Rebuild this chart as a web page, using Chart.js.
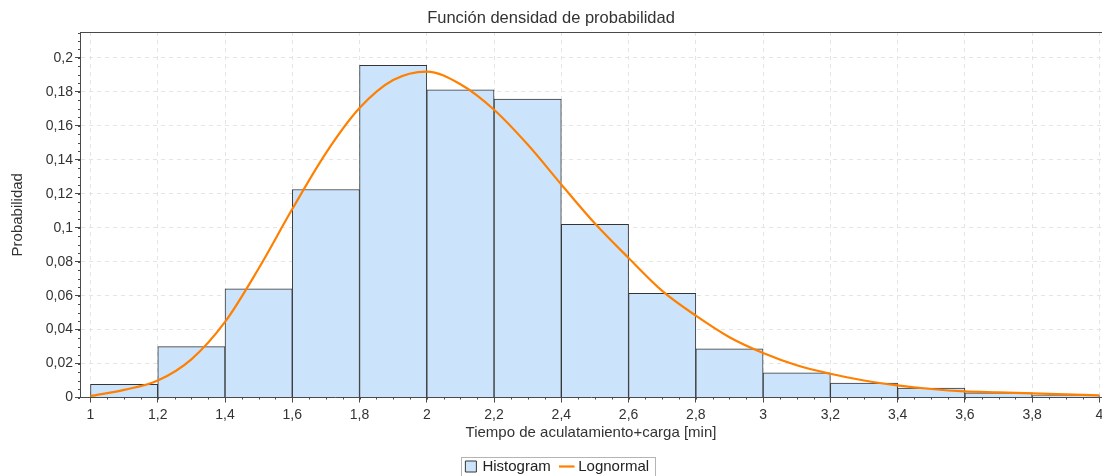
<!DOCTYPE html>
<html>
<head>
<meta charset="utf-8">
<title>Función densidad de probabilidad</title>
<script src="https://cdn.jsdelivr.net/npm/chart.js@4.4.1/dist/chart.umd.min.js"></script>
<style>
  html, body { margin: 0; padding: 0; background: #fff; }
  #wrap { width: 1102px; height: 476px; }
</style>
</head>
<body>
<div id="wrap"><canvas id="pdfChart" width="1102" height="476"></canvas></div>
<script>
// histogram classes (centre of each 0.2 min wide class) and relative frequency
const binCenters = [1.1, 1.3, 1.5, 1.7, 1.9, 2.1, 2.3, 2.5, 2.7, 2.9, 3.1, 3.3, 3.5, 3.7, 3.9];
const histValues = [0.0077, 0.0300, 0.0640, 0.1225, 0.1957, 0.1813, 0.1758, 0.1020,
                    0.0614, 0.0287, 0.0146, 0.0085, 0.0055, 0.0028, 0.0012];

// fitted lognormal density
const curveX = [1.0, 1.1, 1.2, 1.3, 1.4, 1.5, 1.6, 1.7, 1.8, 1.9, 2.0, 2.1, 2.2, 2.3,
                2.4, 2.5, 2.6, 2.7, 2.8, 2.9, 3.0, 3.1, 3.2, 3.3, 3.4, 3.5, 3.6, 3.7, 3.8, 3.9, 4.0];
const curveY = [0.0008, 0.0045, 0.0100, 0.0225, 0.0445, 0.0760, 0.1110, 0.1440, 0.1705,
                0.1870, 0.1920, 0.1845, 0.1695, 0.1490, 0.1255, 0.1025, 0.0822, 0.0628, 0.0482,
                0.0355, 0.0262, 0.0190, 0.0140, 0.0100, 0.0071, 0.0050, 0.0036, 0.0030, 0.0024,
                0.0018, 0.0012];

// axis ticks
const xTicks = [1, 1.2, 1.4, 1.6, 1.8, 2, 2.2, 2.4, 2.6, 2.8, 3, 3.2, 3.4, 3.6, 3.8, 4];
const yTicks = [0, 0.02, 0.04, 0.06, 0.08, 0.1, 0.12, 0.14, 0.16, 0.18, 0.2];

const FONT = "'Liberation Sans', Arial, sans-serif";
const TEXT = '#333';
const AXIS = '#4a4a4a';
const PLOT_BOTTOM = 397.5;

Chart.defaults.font.family = FONT;
Chart.defaults.font.size = 14;
Chart.defaults.color = TEXT;

// decimal comma, as on the original
const fmt = v => String(v).replace('.', ',');

// minor ticks, top edge of the plot, and the box round the legend
const frameAndMinorTicks = {
  id: 'frameAndMinorTicks',
  afterLayout(chart) {
    // legend sits a little right of centre on the original
    if (chart.legend) {
      chart.legend.left += 7;
      chart.legend.right += 7;
    }
  },
  afterDraw(chart) {
    const { ctx, chartArea: a, scales: { x, y } } = chart;
    ctx.save();
    ctx.strokeStyle = AXIS;
    ctx.lineWidth = 1;
    ctx.beginPath();
    for (let i = 0; i <= 43; i++) {
      const py = Math.round(y.getPixelForValue(i * 0.005)) + 0.5;
      if (py < a.top) break;
      ctx.moveTo(a.left - 2, py);
      ctx.lineTo(a.left, py);
    }
    for (let i = 0; i <= 60; i++) {
      const px = Math.round(x.getPixelForValue(1 + i * 0.05)) + 0.5;
      ctx.moveTo(px, a.bottom);
      ctx.lineTo(px, a.bottom + 2);
    }
    ctx.stroke();

    ctx.beginPath();
    ctx.moveTo(a.left, Math.round(a.top) + 0.5);
    ctx.lineTo(a.right, Math.round(a.top) + 0.5);
    ctx.stroke();

    const hb = chart.legend && chart.legend.legendHitBoxes;
    if (hb && hb.length) {
      const l = Math.min(...hb.map(h => h.left)) - 6;
      const r = Math.max(...hb.map(h => h.left + h.width)) + 6;
      const t = Math.min(...hb.map(h => h.top)) - 2;
      const b = Math.max(...hb.map(h => h.top + h.height)) + 4;
      ctx.strokeStyle = '#b4b4b4';
      ctx.strokeRect(Math.round(l) + 0.5, Math.round(t) + 0.5, Math.round(r - l), Math.round(b - t));
    }
    ctx.restore();
  }
};

new Chart(document.getElementById('pdfChart'), {
  type: 'bar',
  data: {
    datasets: [
      {
        type: 'bar',
        label: 'Histogram',
        data: binCenters.map((c, i) => ({ x: c, y: histValues[i] })),
        backgroundColor: '#cce4fb',
        borderColor: '#353535',
        borderWidth: 1,
        barPercentage: 1,
        categoryPercentage: 1,
        pointStyle: 'rect',
        order: 2
      },
      {
        type: 'line',
        label: 'Lognormal',
        data: curveX.map((v, i) => ({ x: v, y: curveY[i] })),
        borderColor: '#ff8000',
        backgroundColor: '#ff8000',
        borderWidth: 2.2,
        pointRadius: 0,
        fill: false,
        cubicInterpolationMode: 'monotone',
        pointStyle: 'line',
        order: 1
      }
    ]
  },
  options: {
    responsive: false,
    animation: false,
    events: [],
    layout: { autoPadding: false, padding: { left: 0, right: 0, top: 0, bottom: -8 } },
    plugins: {
      title: {
        display: true,
        text: 'Función densidad de probabilidad',
        color: TEXT,
        font: { size: 16.5, weight: 'normal' },
        padding: { top: 9, bottom: 3.2 }
      },
      legend: {
        position: 'bottom',
        labels: {
          sort: (a, b) => a.datasetIndex - b.datasetIndex,
          usePointStyle: true,
          boxWidth: 8,
          boxHeight: 11,
          padding: 12,
          color: '#222',
          font: { size: 15 }
        }
      },
      tooltip: { enabled: false }
    },
    scales: {
      x: {
        type: 'linear',
        min: 0.9688,
        max: 4.0077,
        offset: false,
        afterBuildTicks: s => { s.ticks = xTicks.map(v => ({ value: v })); },
        afterFit: s => {
          const lh = s.chart.legend ? s.chart.legend.height : 0;
          s.height = s.chart.height + 8 - lh - PLOT_BOTTOM;
          s.paddingLeft = 0;
          s.paddingRight = 0;
        },
        ticks: { callback: v => fmt(v), autoSkip: false, maxRotation: 0, padding: 4, color: TEXT },
        grid: { offset: false, color: '#e4e4e4', tickColor: AXIS, tickLength: 5 },
        border: { color: AXIS, width: 1, dash: [4, 4] },
        title: {
          display: true,
          text: 'Tiempo de aculatamiento+carga [min]',
          color: TEXT,
          font: { size: 15 },
          padding: { top: 4, bottom: 5 }
        }
      },
      y: {
        type: 'linear',
        min: 0,
        max: 0.2153,
        afterBuildTicks: s => { s.ticks = yTicks.map(v => ({ value: v })); },
        afterFit: s => {
          s.width = 80;
          s.paddingTop = 0;
          s.paddingBottom = 0;
        },
        ticks: { callback: v => fmt(v), autoSkip: false, padding: 2, color: TEXT },
        grid: { color: '#e4e4e4', tickColor: AXIS, tickLength: 5 },
        border: { color: AXIS, width: 1, dash: [4, 4] },
        title: {
          display: true,
          text: 'Probabilidad',
          color: TEXT,
          font: { size: 15 },
          padding: { top: 9, bottom: 4 }
        }
      }
    }
  },
  plugins: [frameAndMinorTicks]
});
</script>
</body>
</html>
